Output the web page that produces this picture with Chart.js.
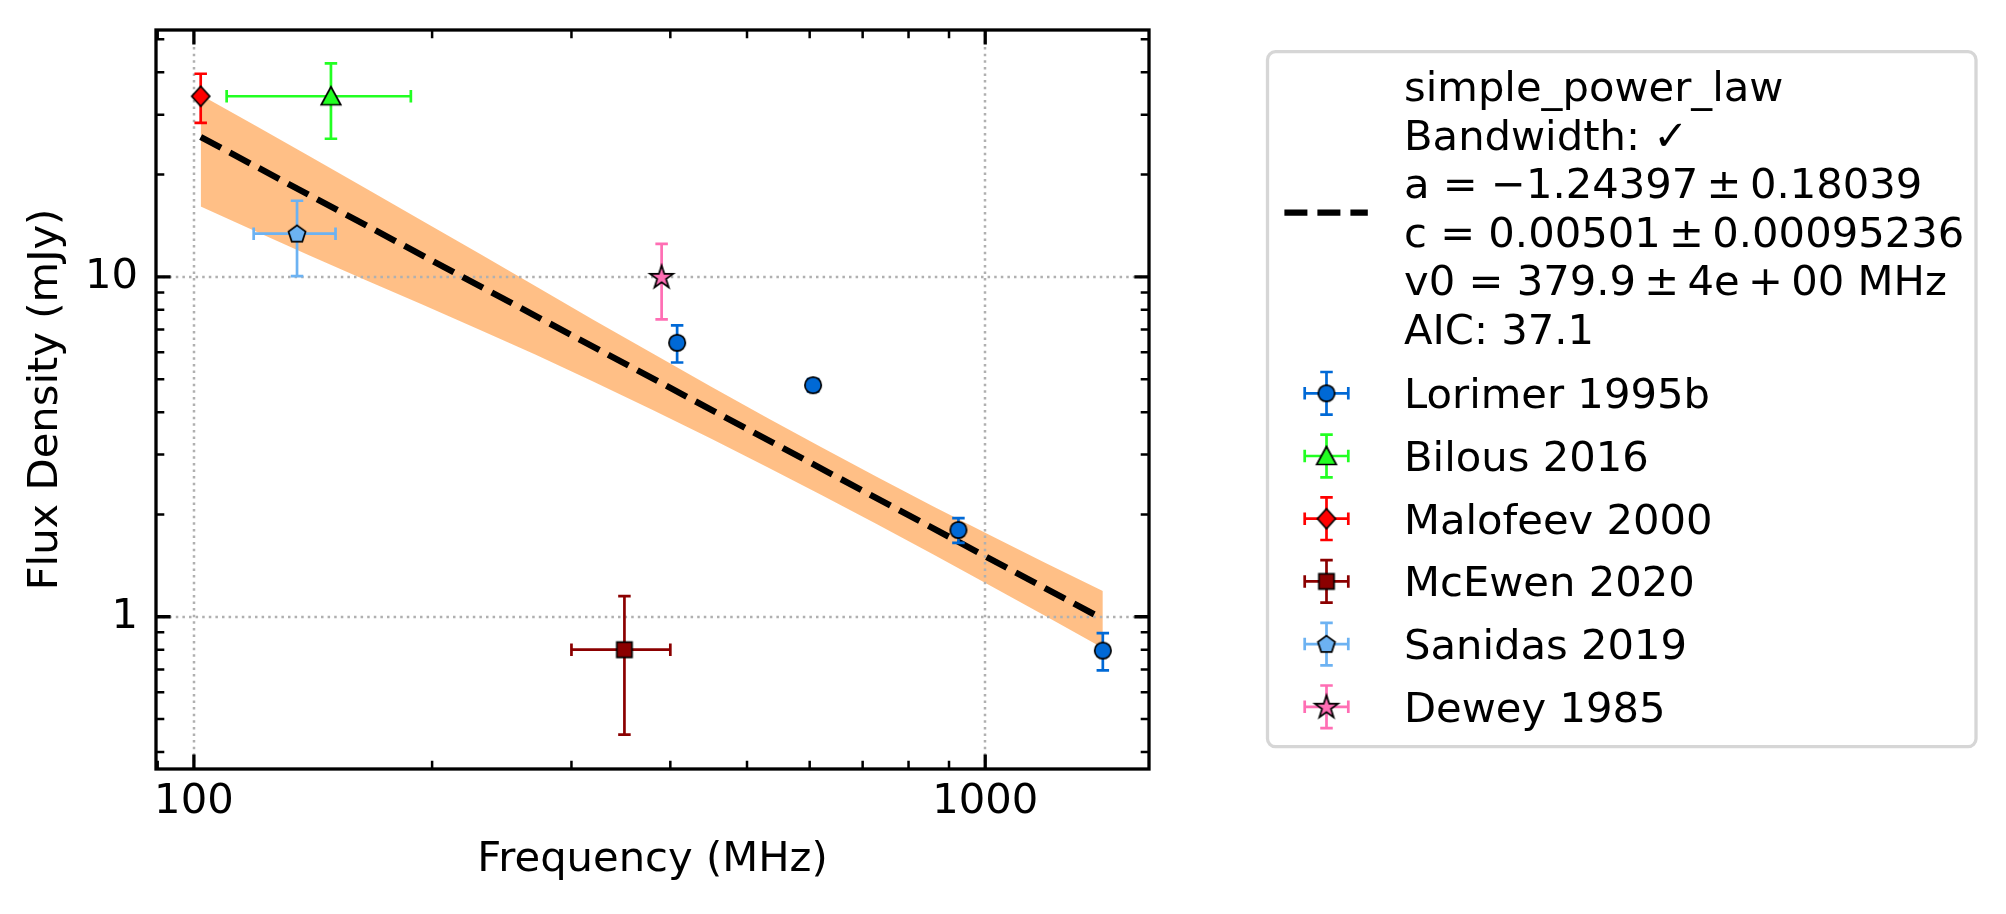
<!DOCTYPE html>
<html><head><meta charset="utf-8">
<script src="https://cdn.jsdelivr.net/npm/chart.js@4.4.0/dist/chart.umd.min.js"></script>
<style>html,body{margin:0;padding:0;background:#fff;}#wrap{width:2006px;height:914px;}</style>
</head><body><div id="wrap"><canvas id="c" width="2006" height="914"></canvas></div>
<script>
// ---------------- data ----------------
const lorimerFreq = [408, 606, 925, 1408];
const lorimerFlux = [6.4, 4.8, 1.8, 0.795];
const lorimerFluxErr = [0.8, 0.2, 0.15, 0.1];

const bilousFreq = [149];
const bilousFlux = [34];
const bilousFluxErr = [8.5];
const bilousFreqErr = [39];

const malofeevFreq = [102];
const malofeevFlux = [34];
const malofeevFluxErr = [5.6];

const mcewenFreq = [350];
const mcewenFlux = [0.8];
const mcewenFluxErr = [0.35];
const mcewenFreqErr = [50];

const sanidasFreq = [135];
const sanidasFlux = [13.4];
const sanidasFluxErr = [3.35];
const sanidasFreqErr = [16];

const deweyFreq = [390];
const deweyFlux = [10];
const deweyFluxErr = [2.5];

const fitFreq = [102, 1408];
const fitFlux = [25.8, 0.985];

const bandFreq  = [102, 120, 140, 165, 195, 230, 270, 320, 380, 450, 530, 620, 730, 860, 1010, 1190, 1408];
const bandUpper = [34.29, 27.76, 22.65, 18.21, 14.56, 11.67, 9.404, 7.473, 5.954, 4.757, 3.854, 3.157, 2.576, 2.111, 1.745, 1.442, 1.191];
const bandLower = [16.11, 13.57, 11.56, 9.782, 8.262, 6.982, 5.908, 4.915, 4.061, 3.345, 2.760, 2.287, 1.871, 1.525, 1.243, 1.007, 0.8091];

const xTickValues = [100, 1000];
const xTickLabels = ['100', '1000'];
const yTickValues = [1, 10];
const yTickLabels = ['1', '10'];
const xMinorTicks = [90, 200, 300, 400, 500, 600, 700, 800, 900];
const yMinorTicks = [0.4, 0.5, 0.6, 0.7, 0.8, 0.9, 2, 3, 4, 5, 6, 7, 8, 9, 20, 30, 40, 50];

const seriesNames = ['Lorimer 1995b', 'Bilous 2016', 'Malofeev 2000', 'McEwen 2020', 'Sanidas 2019', 'Dewey 1985'];
const fitLegendLines = ['simple_power_law', 'Bandwidth: \u2713', 'a = \u22121.24397\u2009\u00b1\u20090.18039',
  'c = 0.00501\u2009\u00b1\u20090.00095236', 'v0 = 379.9\u2009\u00b1\u20094e\u2009+\u200900 MHz', 'AIC: 37.1'];
const xTitle = 'Frequency (MHz)';
const yTitle = 'Flux Density (mJy)';

// ---------------- styles ----------------
const FS = 41.7;
const FAM = 'DejaVu Sans';
const FONT = FS + 'px "' + FAM + '"';

function makeMarker(shape, fill) {
  const S = 36, m = S / 2;
  const c = document.createElement('canvas'); c.width = S; c.height = S;
  const g = c.getContext('2d');
  g.beginPath();
  if (shape === 'circle') { g.arc(m, m, 8.2, 0, Math.PI * 2); }
  else if (shape === 'triangle') { g.moveTo(m, m - 9.5); g.lineTo(m - 9.8, m + 8.5); g.lineTo(m + 9.8, m + 8.5); g.closePath(); }
  else if (shape === 'diamond') { g.moveTo(m, m - 10); g.lineTo(m + 9, m); g.lineTo(m, m + 10); g.lineTo(m - 9, m); g.closePath(); }
  else if (shape === 'square') { g.rect(m - 7.6, m - 7.6, 15.2, 15.2); }
  else if (shape === 'pentagon' || shape === 'star') {
    const R = shape === 'pentagon' ? 9 : 12.2;
    const n = shape === 'pentagon' ? 5 : 10;
    for (let k = 0; k < n; k++) {
      const ang = -Math.PI / 2 + k * 2 * Math.PI / n;
      const r = (shape === 'star' && k % 2 === 1) ? R * 0.381966 : R;
      const px = m + r * Math.cos(ang), py = m + 0.6 + r * Math.sin(ang);
      if (k === 0) g.moveTo(px, py); else g.lineTo(px, py);
    }
    g.closePath();
  }
  g.fillStyle = fill; g.fill();
  g.lineWidth = 1.7; g.strokeStyle = '#000'; g.lineJoin = 'miter'; g.stroke();
  return c;
}

const seriesStyle = [
  {color: '#0069d6', shape: 'circle'},
  {color: '#22ff22', shape: 'triangle'},
  {color: '#ff0000', shape: 'diamond'},
  {color: '#8b0000', shape: 'square'},
  {color: '#6cb2f2', shape: 'pentagon'},
  {color: '#ff6eb4', shape: 'star'}
];

const seriesData = [
  {f: lorimerFreq, s: lorimerFlux, ye: lorimerFluxErr, xe: null},
  {f: bilousFreq, s: bilousFlux, ye: bilousFluxErr, xe: bilousFreqErr},
  {f: malofeevFreq, s: malofeevFlux, ye: malofeevFluxErr, xe: null},
  {f: mcewenFreq, s: mcewenFlux, ye: mcewenFluxErr, xe: mcewenFreqErr},
  {f: sanidasFreq, s: sanidasFlux, ye: sanidasFluxErr, xe: sanidasFreqErr},
  {f: deweyFreq, s: deweyFlux, ye: deweyFluxErr, xe: null}
];

const markers = seriesStyle.map(st => makeMarker(st.shape, st.color));

const datasets = [];
seriesData.forEach((sd, i) => {
  datasets.push({
    type: 'scatter',
    label: seriesNames[i],
    data: sd.f.map((f, k) => ({x: f, y: sd.s[k]})),
    pointStyle: markers[i],
    pointRadius: 10,
    showLine: false,
    order: 6 - i,
    errY: sd.ye, errX: sd.xe, errColor: seriesStyle[i].color
  });
});
datasets.push({
  type: 'line', label: 'fit', isFit: true,
  data: fitFreq.map((f, k) => ({x: f, y: fitFlux[k]})),
  borderColor: '#000', borderWidth: 6.25, borderDash: [23, 10],
  pointRadius: 0, fill: false, tension: 0, order: 10
});
datasets.push({
  type: 'line', label: 'band upper', isBand: true,
  data: bandFreq.map((f, k) => ({x: f, y: bandUpper[k]})),
  borderColor: 'rgba(0,0,0,0)', borderWidth: 0, pointRadius: 0, tension: 0,
  backgroundColor: 'rgba(255,127,14,0.5)', fill: '+1', order: 12
});
datasets.push({
  type: 'line', label: 'band lower',
  data: bandFreq.map((f, k) => ({x: f, y: bandLower[k]})),
  borderColor: 'rgba(0,0,0,0)', borderWidth: 0, pointRadius: 0, tension: 0,
  fill: false, order: 11
});

function errorBars(ctx, xs, ys, d, color) {
  const cap = 6.25;
  ctx.save();
  ctx.strokeStyle = color; ctx.lineWidth = 2.7; ctx.lineCap = 'butt';
  d.data.forEach((p, i) => {
    const px = xs.getPixelForValue(p.x), py = ys.getPixelForValue(p.y);
    const ye = d.errY ? d.errY[i] : 0;
    if (ye) {
      const t = ys.getPixelForValue(p.y + ye), b = ys.getPixelForValue(p.y - ye);
      ctx.beginPath();
      ctx.moveTo(px, t); ctx.lineTo(px, b);
      ctx.moveTo(px - cap, t); ctx.lineTo(px + cap, t);
      ctx.moveTo(px - cap, b); ctx.lineTo(px + cap, b);
      ctx.stroke();
    }
    const xe = d.errX ? d.errX[i] : 0;
    if (xe) {
      const l = xs.getPixelForValue(p.x - xe), r = xs.getPixelForValue(p.x + xe);
      ctx.beginPath();
      ctx.moveTo(l, py); ctx.lineTo(r, py);
      ctx.moveTo(l, py - cap); ctx.lineTo(l, py + cap);
      ctx.moveTo(r, py - cap); ctx.lineTo(r, py + cap);
      ctx.stroke();
    }
  });
  ctx.restore();
}

const errPlugin = {
  id: 'errbars',
  beforeDatasetDraw(chart, args) {
    const d = chart.data.datasets[args.index];
    if (!d.errY && !d.errX) return;
    errorBars(chart.ctx, chart.scales.x, chart.scales.y, d, d.errColor);
  }
};

const axesPlugin = {
  id: 'axesDeco',
  afterDatasetDraw(chart, args) {
    const d = chart.data.datasets[args.index];
    if (!d.isBand) return;
    const ctx = chart.ctx, a = chart.chartArea, xs = chart.scales.x, ys = chart.scales.y;
    ctx.save();
    ctx.strokeStyle = '#b0b0b0'; ctx.lineWidth = 2.5; ctx.setLineDash([2.5, 4.1]);
    xTickValues.forEach(v => {
      const px = Math.round(xs.getPixelForValue(v));
      ctx.beginPath(); ctx.moveTo(px, a.bottom); ctx.lineTo(px, a.top); ctx.stroke();
    });
    yTickValues.forEach(v => {
      const py = Math.round(ys.getPixelForValue(v));
      ctx.beginPath(); ctx.moveTo(a.left, py); ctx.lineTo(a.right, py); ctx.stroke();
    });
    ctx.restore();
  },
  afterDatasetsDraw(chart) {
    const ctx = chart.ctx, a = chart.chartArea, xs = chart.scales.x, ys = chart.scales.y;
    ctx.save();
    ctx.strokeStyle = '#000';
    const tick = (vals, len, w) => {
      ctx.lineWidth = w;
      ctx.beginPath();
      vals.forEach(v => {
        const px = xs.getPixelForValue(v);
        ctx.moveTo(px, a.bottom); ctx.lineTo(px, a.bottom - len);
        ctx.moveTo(px, a.top); ctx.lineTo(px, a.top + len);
      });
      ctx.stroke();
    };
    const tickY = (vals, len, w) => {
      ctx.lineWidth = w;
      ctx.beginPath();
      vals.forEach(v => {
        const py = ys.getPixelForValue(v);
        ctx.moveTo(a.left, py); ctx.lineTo(a.left + len, py);
        ctx.moveTo(a.right, py); ctx.lineTo(a.right - len, py);
      });
      ctx.stroke();
    };
    tick(xTickValues, 14.6, 3.3);
    tick(xMinorTicks, 8.3, 2.5);
    tickY(yTickValues, 14.6, 3.3);
    tickY(yMinorTicks, 8.3, 2.5);
    ctx.lineWidth = 3.3;
    ctx.strokeRect(a.left, a.top, a.right - a.left, a.bottom - a.top);
    ctx.restore();
  }
};

const legendPlugin = {
  id: 'mplLegend',
  afterDraw(chart) {
    const ctx = chart.ctx;
    ctx.save();
    const bx = 1267.5, by = 51.7, bw = 708.5, bh = 695, r = 8;
    ctx.beginPath();
    ctx.roundRect(bx, by, bw, bh, r);
    ctx.fillStyle = '#fff'; ctx.fill();
    ctx.lineWidth = 3.3; ctx.strokeStyle = '#d6d6d6'; ctx.stroke();
    ctx.beginPath();
    ctx.setLineDash([23, 10]);
    ctx.strokeStyle = '#000'; ctx.lineWidth = 6.25;
    ctx.moveTo(1284.4, 212.7); ctx.lineTo(1367.8, 212.7); ctx.stroke();
    ctx.setLineDash([]);
    ctx.font = FONT; ctx.fillStyle = '#000'; ctx.textBaseline = 'alphabetic'; ctx.textAlign = 'left';
    fitLegendLines.forEach((t, i) => ctx.fillText(t, 1404, 101 + i * 48.6));
    seriesNames.forEach((name, i) => {
      const cx = 1326.5, cy = 393.3 + i * 62.7, col = seriesStyle[i].color, cap = 6.25;
      ctx.strokeStyle = col; ctx.lineWidth = 2.7;
      ctx.beginPath();
      ctx.moveTo(cx - 21.8, cy); ctx.lineTo(cx + 21.8, cy);
      ctx.moveTo(cx - 21.8, cy - cap); ctx.lineTo(cx - 21.8, cy + cap);
      ctx.moveTo(cx + 21.8, cy - cap); ctx.lineTo(cx + 21.8, cy + cap);
      ctx.moveTo(cx, cy - 21.3); ctx.lineTo(cx, cy + 21.3);
      ctx.moveTo(cx - cap, cy - 21.3); ctx.lineTo(cx + cap, cy - 21.3);
      ctx.moveTo(cx - cap, cy + 21.3); ctx.lineTo(cx + cap, cy + 21.3);
      ctx.stroke();
      const mk = markers[i];
      ctx.drawImage(mk, cx - mk.width / 2, cy - mk.height / 2);
      ctx.fillStyle = '#000';
      ctx.fillText(name, 1404, cy + 15);
    });
    ctx.restore();
  }
};

Chart.defaults.font.family = FAM;
Chart.defaults.color = '#000';

new Chart(document.getElementById('c'), {
  type: 'scatter',
  data: {datasets},
  options: {
    responsive: false,
    animation: false,
    devicePixelRatio: 1,
    layout: {padding: {left: 0, top: 30, right: 857, bottom: 0}},
    plugins: {legend: {display: false}, tooltip: {enabled: false}},
    scales: {
      x: {
        type: 'logarithmic', position: 'bottom', min: 89.56, max: 1610.5,
        grid: {display: false, drawTicks: false}, border: {display: false},
        ticks: {
          autoSkip: false, maxRotation: 0, minRotation: 0, padding: 8, color: '#000',
          font: {size: FS, family: FAM},
          callback: (v) => { const i = xTickValues.indexOf(v); return i >= 0 ? xTickLabels[i] : ''; }
        },
        afterBuildTicks: (s) => { s.ticks = xTickValues.map(v => ({value: v})); },
        afterFit: (s) => { s.height = 145; s.paddingLeft = 0; s.paddingRight = 0; s.paddingTop = 0; s.paddingBottom = 0; },
        title: {display: true, text: xTitle, color: '#000', font: {size: FS, family: FAM}, padding: {top: 0, bottom: 28.4}}
      },
      y: {
        type: 'logarithmic', position: 'left', min: 0.3565, max: 53.27,
        grid: {display: false, drawTicks: false}, border: {display: false},
        ticks: {
          autoSkip: false, padding: 18, color: '#000',
          font: {size: FS, family: FAM},
          callback: (v) => { const i = yTickValues.indexOf(v); return i >= 0 ? yTickLabels[i] : ''; }
        },
        afterBuildTicks: (s) => { s.ticks = yTickValues.map(v => ({value: v})); },
        afterFit: (s) => { s.width = 156; s.paddingLeft = 0; s.paddingRight = 0; s.paddingTop = 0; s.paddingBottom = 0; },
        title: {display: true, text: yTitle, color: '#000', font: {size: FS, family: FAM}, padding: {top: 21.6, bottom: 0}}
      }
    }
  },
  plugins: [errPlugin, axesPlugin, legendPlugin]
});
</script></body></html>
